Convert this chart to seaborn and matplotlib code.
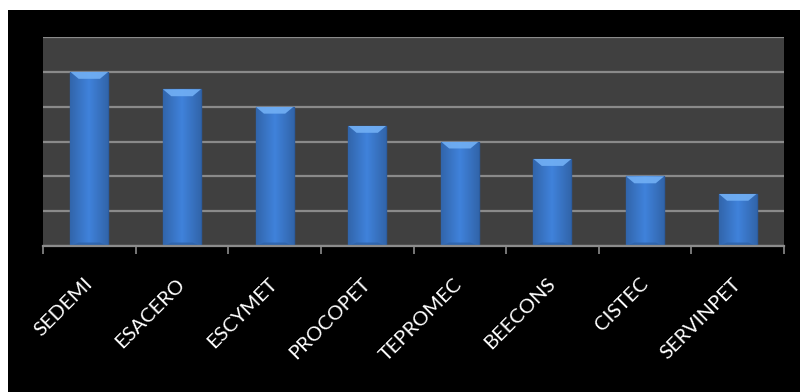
import numpy as np
import pandas as pd
import matplotlib
matplotlib.use("Agg")
import matplotlib.pyplot as plt
import seaborn as sns
from matplotlib.patches import Rectangle, Polygon
from matplotlib.transforms import ScaledTranslation

categories = ["SEDEMI", "ESACERO", "ESCYMET", "PROCOPET", "TEPROMEC", "BEECONS", "CISTEC", "SERVINPET"]
values = [5.0, 4.5, 4.0, 3.45, 3.0, 2.5, 2.0, 1.5]
y_ticks = [0, 1, 2, 3, 4, 5, 6]

sns.set_theme(style="dark")
plt.rcParams['font.family'] = ['Lato', 'DejaVu Sans']

W, H = 800, 392
fig = plt.figure(figsize=(W / 100, H / 100), dpi=100, facecolor="white")
bg = Rectangle((8 / W, 0), 1 - 8 / W, 1 - 10 / H, transform=fig.transFigure,
               facecolor="black", edgecolor="none", zorder=-10)
fig.add_artist(bg)
ax = fig.add_axes([43 / W, (H - 246) / H, (784 - 43) / W, (246 - 37) / H])
ax.set_zorder(1)
ax.set_facecolor("#404040")

df = pd.DataFrame({"company": categories, "value": values})
sns.barplot(data=df, x="company", y="value", ax=ax, color="#3f80d8", width=0.41,
            edgecolor="#2c5c9e", linewidth=1.0, saturation=1, zorder=3)

# gradient shading on each bar
grad = np.linspace(0, 1, 64)
shade = 1 - 0.22 * np.abs(grad - 0.5) * 2
bars = list(ax.patches)
for p in bars:
    x0, y0 = p.get_x(), p.get_y()
    w, h = p.get_width(), p.get_height()
    img = np.zeros((2, 64, 4))
    base = np.array([0.25, 0.51, 0.86])
    img[..., :3] = base * shade[None, :, None]
    img[..., 3] = 1
    im = ax.imshow(img, extent=(x0, x0 + w, y0, y0 + h), aspect="auto", zorder=3.5,
                   interpolation="bilinear")
    im.set_clip_path(p)
    bev = 0.2
    dx = w * 0.22
    top = Polygon([(x0, y0 + h), (x0 + w, y0 + h), (x0 + w - dx, y0 + h - bev), (x0 + dx, y0 + h - bev)],
                  closed=True, facecolor="#72b0f5", edgecolor="none", zorder=3.6, alpha=0.9)
    ax.add_patch(top)
    top.set_clip_path(p)
    bot = Polygon([(x0, y0), (x0 + w, y0), (x0 + w - dx, y0 + 0.1), (x0 + dx, y0 + 0.1)],
                  closed=True, facecolor="#2e62a8", edgecolor="none", zorder=3.6, alpha=0.8)
    ax.add_patch(bot)
    bot.set_clip_path(p)

ax.set_ylim(0, 6)
ax.set_xlim(-0.5, len(categories) - 0.5)
ax.set_aspect("auto")
ax.set_yticks(y_ticks)
ax.set_yticklabels([])
ax.grid(axis="y", color="#8a8a8a", linewidth=1.6, zorder=1)
ax.grid(axis="x", visible=False)
ax.set_axisbelow(True)
for s in ["top", "right", "left"]:
    ax.spines[s].set_visible(False)
ax.spines["bottom"].set_visible(True)
ax.spines["bottom"].set_color("#8c8c8c")
ax.spines["bottom"].set_linewidth(1.6)
ax.spines["bottom"].set_zorder(5)

ax.set_xticks(range(len(categories)))
ax.set_xticks(np.arange(-0.5, len(categories)), minor=True)
ax.tick_params(axis="x", which="minor", length=6, color="#8c8c8c", width=1.2, direction="out", bottom=True)
ax.tick_params(axis="x", which="major", length=0, pad=21)
ax.tick_params(axis="y", length=0)
ax.set_xticklabels(categories, rotation=45, ha="right", rotation_mode="anchor",
                   color="white", fontsize=14.5)
shift = ScaledTranslation(-6 / 100, 0, fig.dpi_scale_trans)
for lbl in ax.get_xticklabels():
    lbl.set_transform(lbl.get_transform() + shift)
ax.set_xlabel("")
ax.set_ylabel("")

fig.savefig("out.png", dpi=100, facecolor=fig.get_facecolor())
